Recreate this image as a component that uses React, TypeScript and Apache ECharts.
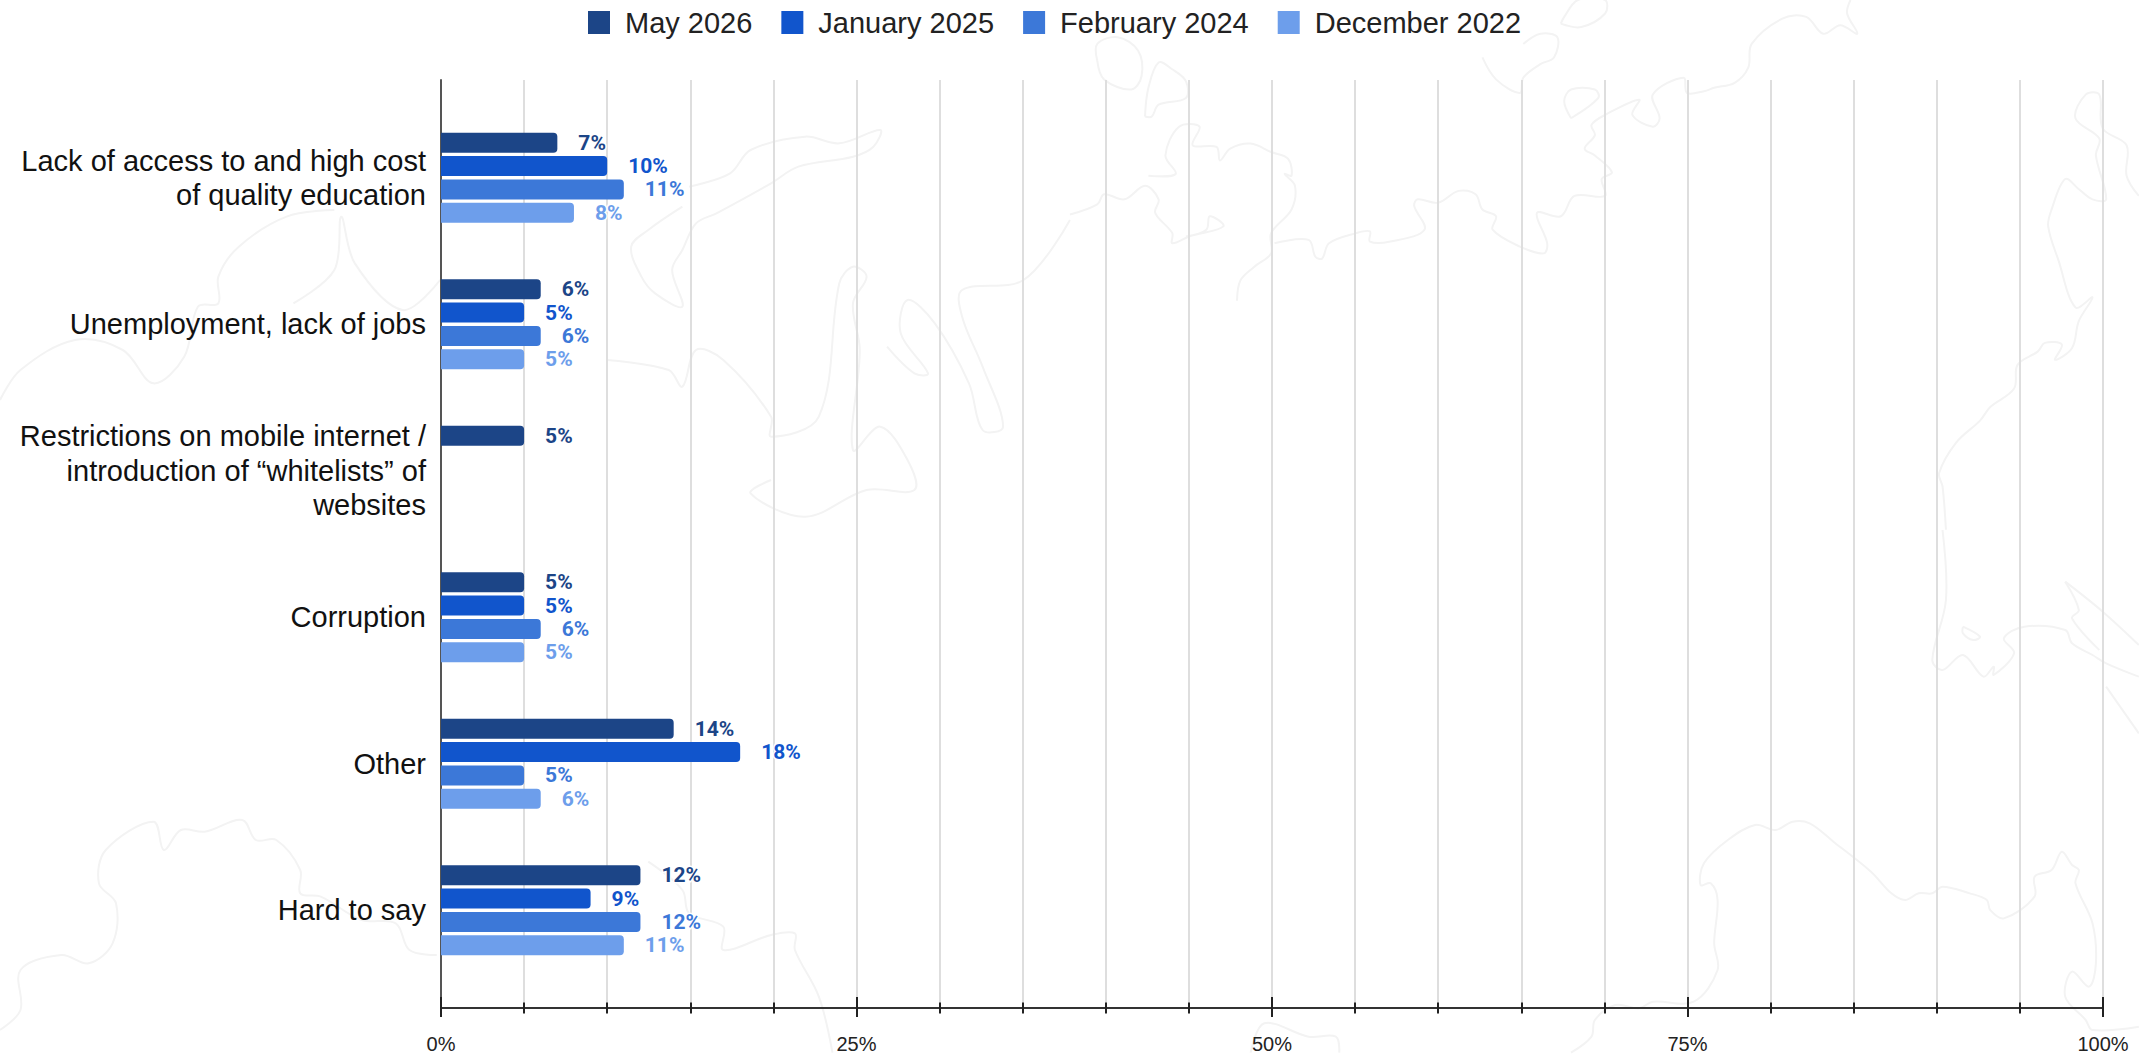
import React, { useEffect, useRef } from "react";
import * as echarts from "echarts";

const categories = [
  "Lack of access to and high cost\nof quality education",
  "Unemployment, lack of jobs",
  "Restrictions on mobile internet /\nintroduction of “whitelists” of\nwebsites",
  "Corruption",
  "Other",
  "Hard to say",
];
const seriesNames = ["May 2026", "January 2025", "February 2024", "December 2022"];
const may2026 = [7, 6, 5, 5, 14, 12];
const january2025 = [10, 5, null, 5, 18, 9];
const february2024 = [11, 6, null, 6, 5, 12];
const december2022 = [8, 5, null, 5, 6, 11];
const colors = ["#1c4587", "#1155cc", "#3c78d8", "#6d9eeb"];
const FONT = "'Liberation Sans', Arial, sans-serif";

const L = 441, R = 36;
const frameGrid = { left: L, right: R, top: 80, bottom: 47 };
const barGrid = { left: L, right: R, top: 104.5, bottom: 71.5 };

// faint decorative map outlines behind the chart: [offsetX, offsetY, scaleX, scaleY, points]
type Outline = [number, number, number, number, number[][]];
const TR = [1070, 0, 1.467, 2.96] as const;
const TL = [0, 50, 1.4655, 3] as const;
const BL = [0, 530, 1.4655, 3] as const;
const BR = [1070, 530, 1.467, 3] as const;
const outlines: Outline[] = [
  [...TR, [[40,180],[50,235],[90,265],[105,225],[100,150],[70,110],[40,130],[40,180]]],
  [...TR, [[110,345],[120,345],[130,310],[170,290],[170,240],[150,205],[130,185],[115,260],[110,345]]],
  [...TR, [[0,635],[40,605],[50,575],[80,590],[110,550],[130,590],[125,630],[150,690],[150,720],[175,700],[225,670],[205,640],[200,680],[170,700]]],
  [...TR, [[115,520],[155,515],[140,460],[160,375],[190,375],[180,430],[215,435],[220,475],[235,440],[265,425],[295,450],[320,470],[325,520],[315,515],[330,550],[325,620],[295,690],[295,750],[270,790],[250,830],[245,890]]],
  [...TR, [[300,720],[350,710],[360,760],[370,765],[380,720],[420,690],[440,685],[440,715],[470,715],[520,680],[505,610],[510,590],[540,600],[570,565],[595,575],[605,620],[625,640],[620,680],[660,730],[695,750],[700,720],[685,630],[720,640],[740,580],[785,580],[780,530],[795,510],[770,460],[755,440],[770,400],[765,370],[785,340],[835,295],[825,340],[855,375],[865,350],[855,280],[900,230],[905,275],[930,270],[945,260],[975,245],[995,200],[1000,130],[1045,55],[1080,50],[1105,100],[1130,75],[1155,100],[1140,40],[1145,0]]],
  [...TR, [[720,70],[750,80],[785,40],[785,0],[745,0],[725,50],[720,70]]],
  [...TR, [[605,170],[625,235],[660,275],[665,230],[690,190],[710,170],[715,110],[690,100],[665,130]]],
  [...TR, [[735,350],[775,290],[770,265],[735,265],[725,300],[735,350]]],
  [...TR, [[1285,1568],[1280,1440],[1275,1400],[1300,1310],[1335,1245],[1350,1205],[1385,1150],[1390,1080],[1420,1040],[1430,1015],[1455,1020],[1445,1065],[1470,1030],[1480,950],[1500,880],[1475,910],[1450,770],[1435,670],[1440,620],[1460,530],[1480,560],[1500,590],[1520,590],[1505,460],[1510,410],[1475,350],[1490,280],[1510,280],[1515,380],[1550,430],[1550,520],[1568,580]]],
  [...TL, [[0,1050],[30,960],[110,870],[180,900],[225,1000],[270,920],[290,770],[320,760],[320,680],[350,590],[420,500],[490,480]]],
  [...TL, [[430,760],[490,660],[500,500],[520,640],[590,780],[645,690]]],
  [...TL, [[1010,410],[1070,370],[1100,300],[1180,260],[1230,280],[1290,240],[1280,290],[1250,320],[1170,350],[1130,400],[1050,490],[1020,520],[1000,600],[985,660],[1000,770],[960,730],[940,680],[925,590],[950,540],[1000,470]]],
  [...TL, [[890,930],[980,960],[1000,1010],[1020,900],[1060,930],[1130,1100],[1130,1160],[1200,1100],[1230,700],[1250,650],[1270,680],[1250,760],[1260,900],[1250,1200],[1290,1130],[1330,1230],[1340,1320],[1270,1320],[1180,1400],[1100,1330],[1130,1290]]],
  [...TL, [[1568,510],[1500,690],[1410,720],[1410,800],[1440,950],[1470,1130],[1440,1140],[1420,1000],[1370,820],[1330,750],[1320,850],[1360,970],[1340,970],[1300,890]]],
  [...BL, [[0,1500],[30,1440],[30,1320],[90,1275],[130,1300],[165,1240],[170,1120],[145,1060],[155,960],[225,875],[240,960],[265,900],[300,905],[355,870],[375,930],[405,930],[440,1020],[440,1090],[470,1100],[530,1170],[580,1180],[600,1260],[640,1275]]],
  [...BL, [[950,995],[1000,1080],[1010,1150],[1060,1190],[1060,1260],[1130,1215],[1165,1210],[1165,1260],[1200,1400],[1220,1568]]],
  [...BR, [[735,1568],[765,1520],[770,1470],[800,1425],[835,1435],[855,1415],[915,1415],[950,1320],[945,1240],[950,1110],[940,1060],[925,1065],[930,1000],[965,930],[1005,885],[1035,900],[1060,875],[1085,880],[1120,935],[1175,1025],[1205,1090],[1225,1110],[1245,1090],[1265,1090],[1280,1070],[1320,1090],[1345,1110],[1350,1140],[1370,1165],[1415,1100],[1415,1040],[1440,1020],[1455,965],[1470,1005],[1480,1020],[1475,1060],[1500,1180],[1505,1300],[1495,1370],[1470,1325],[1460,1400],[1490,1470],[1500,1500],[1568,1490]]],
  [...BR, [[1280,0],[1285,210],[1265,390],[1280,420],[1310,375],[1340,440],[1355,410],[1355,435],[1385,370],[1370,325],[1400,290],[1460,300],[1470,340],[1500,375],[1520,400],[1568,440]]],
  [...BR, [[1520,470],[1568,610]]],
  [...BR, [[1460,155],[1480,240],[1470,265],[1510,360]]],
  [...BR, [[1460,155],[1515,245],[1568,345]]],
  [...BR, [[1310,290],[1335,320],[1325,330],[1310,310],[1310,290]]],
  [...BR, [[265,1568],[285,1480],[350,1520],[390,1520],[395,1568]]],
];

export default function App() {
  const ref = useRef<HTMLDivElement>(null);
  useEffect(() => {
    document.body.style.margin = "0";
    const chart = echarts.init(ref.current!, null, { renderer: "svg" });
    const values = [may2026, january2025, february2024, december2022];
    const tickAxis = (interval: number, length: number, inside: boolean, extra: any = {}) => ({
      type: "value", gridIndex: 0, min: 0, max: 100, interval, position: "bottom",
      axisLine: { show: true, lineStyle: { color: "#333", width: 2 } },
      axisTick: { show: true, inside, length, lineStyle: { color: "#222", width: 2 } },
      axisLabel: { show: false },
      splitLine: { show: false },
      ...extra,
    });
    chart.setOption({
      animation: false,
      backgroundColor: "#fff",
      textStyle: { fontFamily: FONT },
      graphic: {
        elements: outlines.map(([ox, oy, sx, sy, pts]) => ({
          type: "polyline", silent: true, z: -10,
          shape: { points: pts.map(([x, y]) => [ox + x / sx, oy + y / sy]), smooth: 0.35 },
          style: { stroke: "#f3f3f3", lineWidth: 2, fill: "none" },
        })),
      },
      legend: {
        top: 3, left: 583, itemWidth: 22, itemHeight: 23, itemGap: 29, icon: "rect",
        data: seriesNames,
        textStyle: { fontSize: 29, color: "#222", fontFamily: FONT, padding: [0, 0, 0, 10] },
      },
      grid: [frameGrid, barGrid],
      xAxis: [
        tickAxis(25, 9, false, {
          axisLabel: { show: true, fontSize: 20, color: "#222", margin: 26, formatter: "{value}%",
            fontFamily: FONT, hideOverlap: false },
        }),
        tickAxis(5, 5.5, false, { splitLine: { show: true, lineStyle: { color: "#dedede", width: 2 } } }),
        tickAxis(5, 5.5, true),
        tickAxis(25, 11, true),
        { type: "value", gridIndex: 1, min: 0, max: 100, show: false },
      ],
      yAxis: [
        { type: "category", gridIndex: 0, data: [""], axisLine: { show: true, lineStyle: { color: "#555", width: 2 } },
          axisTick: { show: false }, axisLabel: { show: false } },
        {
          type: "category", gridIndex: 1, inverse: true, data: categories,
          axisLine: { show: false }, axisTick: { show: false },
          axisLabel: {
            fontSize: 29, color: "#111", margin: 15, lineHeight: 34.5, align: "right",
            fontFamily: FONT,
          },
        },
      ],
      series: seriesNames.map((name, i) => ({
        name, type: "bar", xAxisIndex: 4, yAxisIndex: 1, data: values[i],
        barWidth: 20, barGap: "17%",
        itemStyle: { color: colors[i], borderRadius: [0, 4, 4, 0] },
        label: {
          show: true, position: "right", distance: 21, formatter: "{c}%", fontSize: 21, fontWeight: "bold",
          fontFamily: "Roboto", color: colors[i], textBorderColor: "#fff", textBorderWidth: 3,
        },
      })),
    });
    return () => chart.dispose();
  }, []);
  return <div ref={ref} style={{ width: 2139, height: 1055 }} />;
}
